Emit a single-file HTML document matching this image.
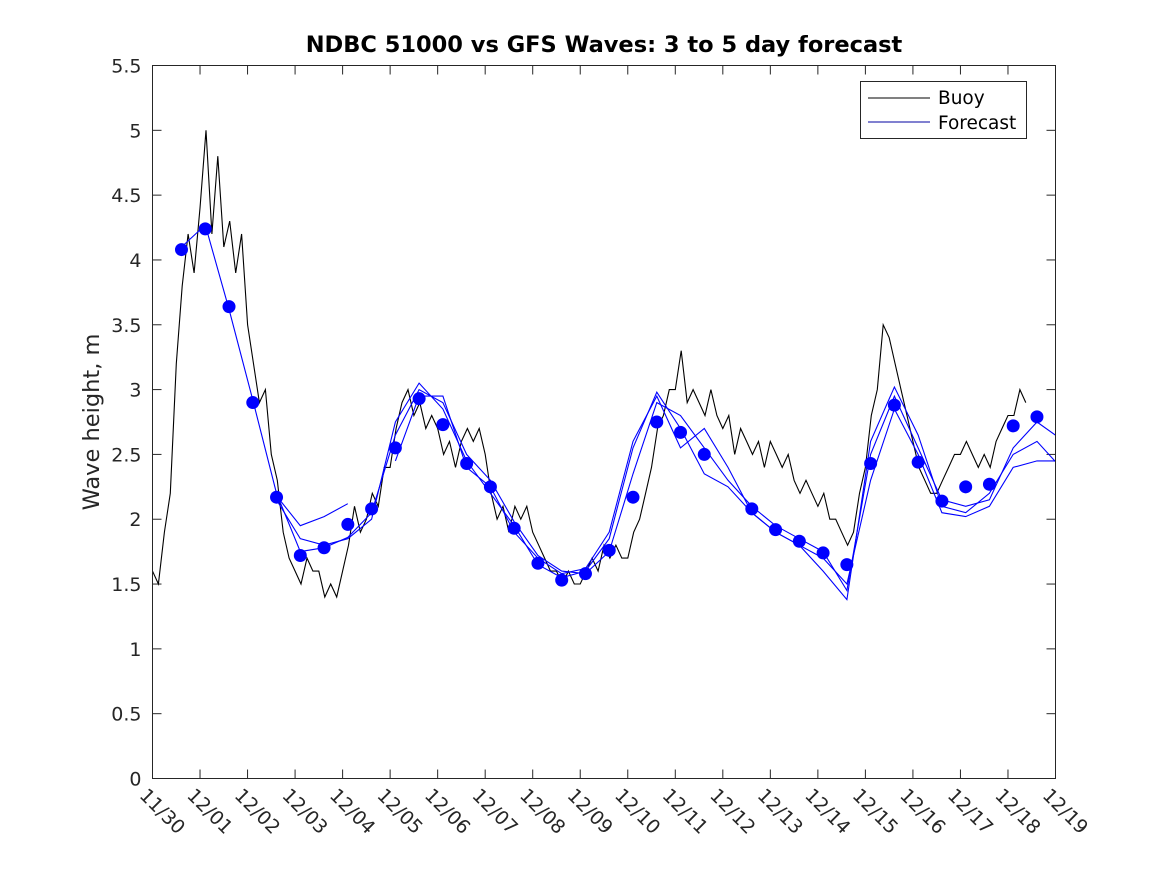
<!DOCTYPE html>
<html><head><meta charset="utf-8"><style>
body{margin:0;background:#fff;}
svg{display:block;font-family:"DejaVu Sans","Liberation Sans",sans-serif;}
</style></head><body>
<svg id="chart" width="1167" height="875">
<rect x="0" y="0" width="1167" height="875" fill="#fff"/>
<text x="604" y="52" text-anchor="middle" font-size="22.5" font-weight="bold" fill="#000">NDBC 51000 vs GFS Waves: 3 to 5 day forecast</text>
<text transform="translate(99,422) rotate(-90)" text-anchor="middle" font-size="22.5" fill="#262626">Wave height, m</text>
<g id="grid"></g>
<g id="series"></g>
<rect x="152.5" y="65.5" width="903" height="713" fill="none" stroke="#262626" stroke-width="1"/>
<g>
<rect x="860.5" y="81.5" width="166" height="57" fill="#fff" stroke="#262626"/>
<line x1="868" y1="98" x2="930" y2="98" stroke="#000" stroke-width="1"/>
<text x="938" y="104" font-size="18.5" fill="#000">Buoy</text>
<line x1="868" y1="122" x2="930" y2="122" stroke="#0000a0" stroke-width="1"/>
<text x="938" y="129" font-size="18.5" fill="#000">Forecast</text>
</g>
</svg>
<script>
const xTickLabels=["11/30","12/01","12/02","12/03","12/04","12/05","12/06","12/07","12/08","12/09","12/10","12/11","12/12","12/13","12/14","12/15","12/16","12/17","12/18","12/19"];
const yTickLabels=["0","0.5","1","1.5","2","2.5","3","3.5","4","4.5","5","5.5"];
const buoyStep=0.125;
const buoy=[1.6,1.5,1.9,2.2,3.2,3.8,4.2,3.9,
4.4,5.0,4.2,4.8,4.1,4.3,3.9,4.2,
3.5,3.2,2.9,3.0,2.5,2.3,1.9,1.7,
1.6,1.5,1.7,1.6,1.6,1.4,1.5,1.4,
1.6,1.8,2.1,1.9,2.0,2.2,2.1,2.4,
2.4,2.7,2.9,3.0,2.8,2.9,2.7,2.8,
2.7,2.5,2.6,2.4,2.6,2.7,2.6,2.7,
2.5,2.2,2.0,2.1,1.9,2.1,2.0,2.1,
1.9,1.8,1.7,1.6,1.6,1.5,1.6,1.5,
1.5,1.6,1.7,1.6,1.8,1.7,1.8,1.7,
1.7,1.9,2.0,2.2,2.4,2.7,2.8,3.0,
3.0,3.3,2.9,3.0,2.9,2.8,3.0,2.8,
2.7,2.8,2.5,2.7,2.6,2.5,2.6,2.4,
2.6,2.5,2.4,2.5,2.3,2.2,2.3,2.2,
2.1,2.2,2.0,2.0,1.9,1.8,1.9,2.2,
2.4,2.8,3.0,3.5,3.4,3.2,3.0,2.8,
2.6,2.4,2.3,2.2,2.2,2.3,2.4,2.5,
2.5,2.6,2.5,2.4,2.5,2.4,2.6,2.7,
2.8,2.8,3.0,2.9];
const dotStart=0.61, dotStep=0.5;
const dots=[4.08,4.24,3.64,2.90,2.17,1.72,1.78,1.96,2.08,2.55,2.93,2.73,2.43,2.25,1.93,1.66,1.53,1.58,1.76,2.17,2.75,2.67,2.50,null,2.08,1.92,1.83,1.74,1.65,2.43,2.88,2.44,2.14,2.25,2.27,2.72,2.79];
const forecast1=[4.10,4.27,3.62,2.92,2.20,1.75,1.78,1.86,2.05,2.65,3.00,2.90,2.50,2.30,1.98,1.72,1.60,1.58,1.75,2.35,2.90,2.80,2.55,2.30,2.10,1.95,1.85,1.75,1.45,2.50,2.95,2.55,2.15,2.10,2.15,2.55,2.75,2.62];
const forecast2=[null,null,null,null,2.15,1.85,1.80,1.85,2.00,2.75,3.05,2.85,2.45,2.20,1.95,1.65,1.55,1.60,1.85,2.55,2.98,2.70,2.35,2.25,2.05,1.90,1.80,1.60,1.38,2.60,3.02,2.65,2.10,2.05,2.20,2.50,2.60,2.40];
const forecast3=[null,null,null,null,2.18,1.95,2.02,2.12,null,2.45,2.95,2.95,2.40,2.25,1.90,1.70,1.58,1.62,1.90,2.60,2.95,2.55,2.70,2.40,2.05,1.90,1.80,1.70,1.50,2.30,2.85,2.50,2.05,2.02,2.10,2.40,2.45,2.45];
const X0=152.5,X1=1055.5,Y0=778.5,Y1=65.5,XMAX=19,YMAX=5.5;
const sx=t=>X0+(X1-X0)*t/XMAX;
const sy=v=>Y0-(Y0-Y1)*v/YMAX;
const NS="http://www.w3.org/2000/svg";
const grid=document.getElementById('grid'),ser=document.getElementById('series');
function mk(tag,attrs,parent){const e=document.createElementNS(NS,tag);for(const k in attrs)e.setAttribute(k,attrs[k]);parent.appendChild(e);return e;}
xTickLabels.forEach((lab,i)=>{
  const x=sx(i);
  const t1=mk('line',{x1:x,y1:Y0,x2:x,y2:Y0-9,stroke:'#262626'},grid);
  
  
  const t2=mk('line',{x1:x,y1:Y1,x2:x,y2:Y1+9,stroke:'#262626'},grid);
  
  
  const tx=mk('text',{x:0,y:0,'font-size':19,fill:'#262626',transform:`translate(${x-14},${Y0+18}) rotate(45)`},grid);
  tx.textContent=lab;
  
  
});
yTickLabels.forEach((lab,i)=>{
  const y=sy(parseFloat(lab));
  const t1=mk('line',{x1:X0,y1:y,x2:X0+9,y2:y,stroke:'#262626'},grid);
  
  
  const t2=mk('line',{x1:X1,y1:y,x2:X1-9,y2:y,stroke:'#262626'},grid);
  
  
  const tx=mk('text',{x:X0-11,y:y+7,'font-size':19,fill:'#262626','text-anchor':'end'},grid);
  tx.textContent=lab;
  
  
});
const clip=mk('clipPath',{id:'pc'},mk('defs',{},ser));
mk('rect',{x:X0,y:Y1,width:X1-X0,height:Y0-Y1},clip);
let d='';buoy.forEach((v,i)=>{d+=(i?'L':'M')+sx(i*buoyStep).toFixed(1)+' '+sy(v).toFixed(1);});
const bl=mk('path',{d:d,fill:'none',stroke:'#000','stroke-width':1.1,'clip-path':'url(#pc)'},ser);


[forecast1,forecast2,forecast3].forEach((arr,k)=>{
  let p='',pen=false;
  arr.forEach((v,i)=>{if(v==null){pen=false;return;}p+=(pen?'L':'M')+sx(dotStart+i*dotStep).toFixed(1)+' '+sy(v).toFixed(1);pen=true;});
  const fl=mk('path',{d:p,fill:'none',stroke:'#0000ff','stroke-width':1.1,'clip-path':'url(#pc)'},ser);
  
  
});
dots.forEach((v,i)=>{
  if(v==null)return;
  const c=mk('circle',{cx:sx(dotStart+i*dotStep),cy:sy(v),r:6.5,fill:'#0000ff'},ser);
  
  
});
</script>
</body></html>
